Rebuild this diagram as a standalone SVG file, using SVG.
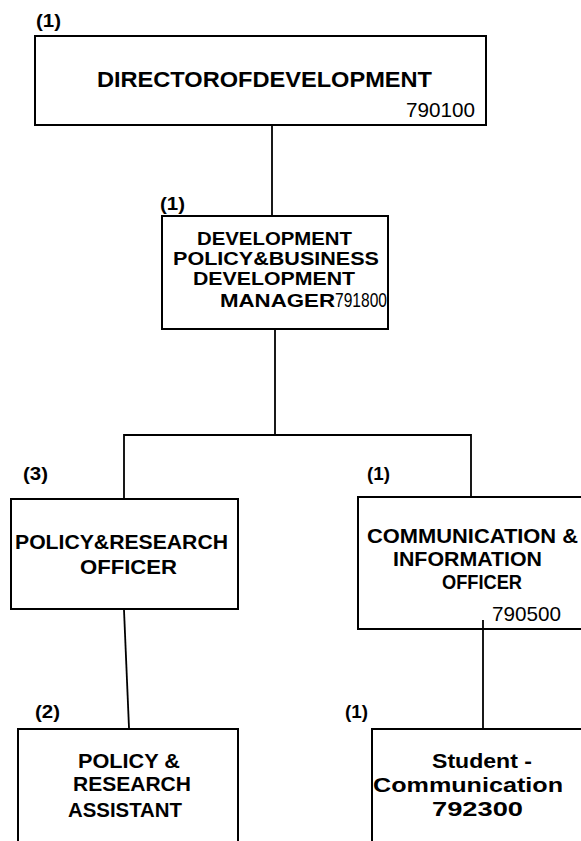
<svg xmlns="http://www.w3.org/2000/svg" width="581" height="841" viewBox="0 0 581 841">
<style>
.box{fill:#fff;stroke:#000;stroke-width:2}
.ln{stroke:#000;stroke-width:1.8;fill:none}
.t{font-family:"Liberation Sans",Arial,sans-serif;font-weight:bold;font-size:21px;fill:#000}
.n{font-family:"Liberation Sans",Arial,sans-serif;font-size:21px;fill:#000}
.c{font-family:"Liberation Sans",Arial,sans-serif;font-weight:bold;font-size:18px;fill:#000}
</style>
<rect width="581" height="841" fill="#fff"/>
<g id="director">
<text class="c" x="36" y="27" textLength="25" lengthAdjust="spacingAndGlyphs">(1)</text>
<rect class="box" x="35" y="36" width="451" height="89"/>
<text class="t" x="97" y="87" style="font-size:22px" textLength="335" lengthAdjust="spacingAndGlyphs">DIRECTOROFDEVELOPMENT</text>
<text class="n" x="406" y="117" textLength="69" lengthAdjust="spacingAndGlyphs">790100</text>
</g>
<g id="manager">
<text class="c" x="160" y="210" textLength="25" lengthAdjust="spacingAndGlyphs">(1)</text>
<rect class="box" x="162" y="216" width="226" height="113"/>
<text class="t" x="197" y="245" style="font-size:19px" textLength="155" lengthAdjust="spacingAndGlyphs">DEVELOPMENT</text>
<text class="t" x="173" y="265" style="font-size:19px" textLength="206" lengthAdjust="spacingAndGlyphs">POLICY&amp;BUSINESS</text>
<text class="t" x="193" y="285" style="font-size:19px" textLength="162" lengthAdjust="spacingAndGlyphs">DEVELOPMENT</text>
<text class="t" x="220" y="307" style="font-size:19px" textLength="115" lengthAdjust="spacingAndGlyphs">MANAGER</text>
<text class="n" x="335" y="307" style="font-size:20px" textLength="52" lengthAdjust="spacingAndGlyphs">791800</text>
</g>
<g id="policy-officer">
<text class="c" x="23" y="480" textLength="25" lengthAdjust="spacingAndGlyphs">(3)</text>
<rect class="box" x="11" y="499" width="227" height="110"/>
<text class="t" x="15" y="549" textLength="213" lengthAdjust="spacingAndGlyphs">POLICY&amp;RESEARCH</text>
<text class="t" x="80" y="574" textLength="97" lengthAdjust="spacingAndGlyphs">OFFICER</text>
</g>
<g id="comm-officer">
<text class="c" x="367" y="480" textLength="23" lengthAdjust="spacingAndGlyphs">(1)</text>
<rect class="box" x="358" y="497" width="240" height="132"/>
<text class="t" x="367" y="543" textLength="211" lengthAdjust="spacingAndGlyphs">COMMUNICATION &amp;</text>
<text class="t" x="393" y="566" textLength="149" lengthAdjust="spacingAndGlyphs">INFORMATION</text>
<text class="t" x="442" y="589" textLength="80" lengthAdjust="spacingAndGlyphs">OFFICER</text>
<text class="n" x="492" y="621" textLength="69" lengthAdjust="spacingAndGlyphs">790500</text>
</g>
<g id="policy-assistant">
<text class="c" x="35" y="718" textLength="25" lengthAdjust="spacingAndGlyphs">(2)</text>
<rect class="box" x="18" y="729" width="220" height="140"/>
<text class="t" x="78" y="768" textLength="102" lengthAdjust="spacingAndGlyphs">POLICY &amp;</text>
<text class="t" x="73" y="791" textLength="118" lengthAdjust="spacingAndGlyphs">RESEARCH</text>
<text class="t" x="68" y="817" textLength="114" lengthAdjust="spacingAndGlyphs">ASSISTANT</text>
</g>
<g id="student-comm">
<text class="c" x="345" y="718" textLength="23" lengthAdjust="spacingAndGlyphs">(1)</text>
<rect class="box" x="372" y="729" width="240" height="140"/>
<text class="t" x="432" y="768" textLength="100" lengthAdjust="spacingAndGlyphs">Student -</text>
<text class="t" x="373" y="792" textLength="190" lengthAdjust="spacingAndGlyphs">Communication</text>
<text class="t" x="432" y="816" textLength="91" lengthAdjust="spacingAndGlyphs">792300</text>
</g>
<g id="connectors">
<line class="ln" x1="272" y1="126" x2="272" y2="215"/>
<line class="ln" x1="275" y1="330" x2="275" y2="435"/>
<polyline class="ln" points="124,498 124,435 471,435 471,496"/>
<line class="ln" x1="124" y1="610" x2="129" y2="728"/>
<line class="ln" x1="483" y1="620" x2="483" y2="728"/>
</g>
</svg>
